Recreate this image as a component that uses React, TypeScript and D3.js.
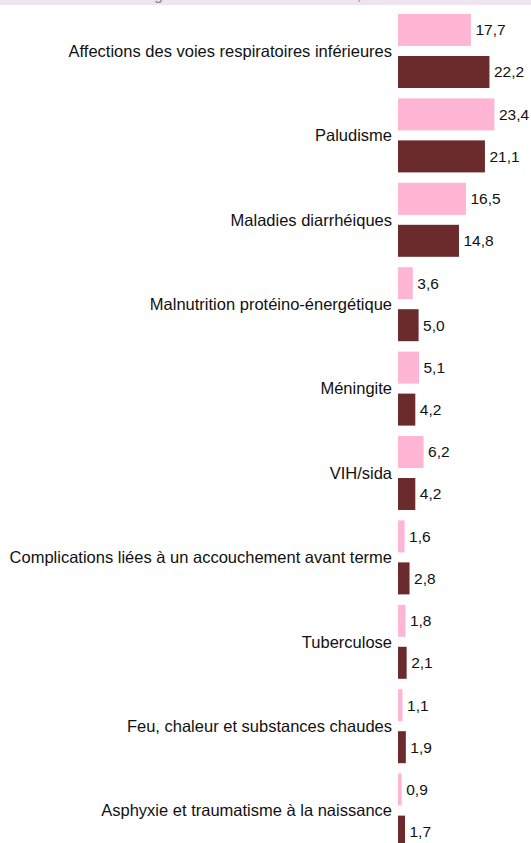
import { useRef, useEffect } from 'react'
import * as d3 from 'd3'

const CAUSES = [
  'Affections des voies respiratoires inférieures',
  'Paludisme',
  'Maladies diarrhéiques',
  'Malnutrition protéino-énergétique',
  'Méningite',
  'VIH/sida',
  'Complications liées à un accouchement avant terme',
  'Tuberculose',
  'Feu, chaleur et substances chaudes',
  'Asphyxie et traumatisme à la naissance',
]

const SERIES = ['2000', '2012']
const VALUES_2000 = [17.7, 23.4, 16.5, 3.6, 5.1, 6.2, 1.6, 1.8, 1.1, 0.9]
const VALUES_2012 = [22.2, 21.1, 14.8, 5.0, 4.2, 4.2, 2.8, 2.1, 1.9, 1.7]

const COLORS: Record<string, string> = {
  '2000': '#ffb5d4',
  '2012': '#6b2b2d',
}

const TITLE = 'Pourcentage du nombre total de décès, 2000 et 2012'

const W = 531
const H = 843

export default function App() {
  const svgRef = useRef<SVGSVGElement>(null)

  useEffect(() => {
    document.body.style.margin = '0'
    if (!svgRef.current) return
    const svg = d3.select(svgRef.current)
    svg.selectAll('*').remove()

    const font = 'Arial, "Liberation Sans", sans-serif'

    // title band at the top, cropped in the source picture
    svg.append('rect').attr('x', 0).attr('y', 0).attr('width', W).attr('height', 5).attr('fill', '#efe5f1')
    svg.append('text')
      .attr('x', 270)
      .attr('y', 0)
      .attr('text-anchor', 'middle')
      .attr('font-family', font)
      .attr('font-size', '16px')
      .attr('fill', '#888')
      .text(TITLE)

    const x0 = 398
    const x = d3.scaleLinear().domain([0, 10]).range([x0, x0 + 41.2])

    const y = d3.scaleBand<string>().domain(CAUSES).range([8.8, 8.8 + 84.4 * CAUSES.length]).padding(0)
    const yInner = d3.scaleBand<string>().domain(SERIES).range([5.2, 79.2]).paddingInner(10 / 42).paddingOuter(0)

    const rows = CAUSES.map((c, i) => ({ cause: c, values: [VALUES_2000[i], VALUES_2012[i]] }))

    const groups = svg.append('g').selectAll('g.row')
      .data(rows)
      .join('g')
      .attr('class', 'row')
      .attr('transform', (d) => `translate(0,${y(d.cause)})`)

    groups.append('text')
      .attr('x', 392)
      .attr('y', y.bandwidth() / 2)
      .attr('dy', '0.35em')
      .attr('text-anchor', 'end')
      .attr('font-family', font)
      .attr('font-size', '16.5px')
      .attr('fill', '#111')
      .text((d) => d.cause)

    const bars = groups.selectAll('g.bar')
      .data((d) => SERIES.map((s, j) => ({ series: s, value: d.values[j] })))
      .join('g')
      .attr('class', 'bar')

    bars.append('rect')
      .attr('x', x(0))
      .attr('y', (d) => yInner(d.series)!)
      .attr('width', (d) => x(d.value) - x(0))
      .attr('height', yInner.bandwidth())
      .attr('fill', (d) => COLORS[d.series])

    bars.append('text')
      .attr('x', (d) => x(d.value) + 4.5)
      .attr('y', (d) => yInner(d.series)! + yInner.bandwidth() / 2)
      .attr('dy', '0.35em')
      .attr('font-family', font)
      .attr('font-size', '15.5px')
      .attr('fill', '#111')
      .text((d) => d.value.toFixed(1).replace('.', ','))
  }, [])

  return <svg ref={svgRef} width={W} height={H} style={{ display: 'block', background: '#fff' }} />
}
